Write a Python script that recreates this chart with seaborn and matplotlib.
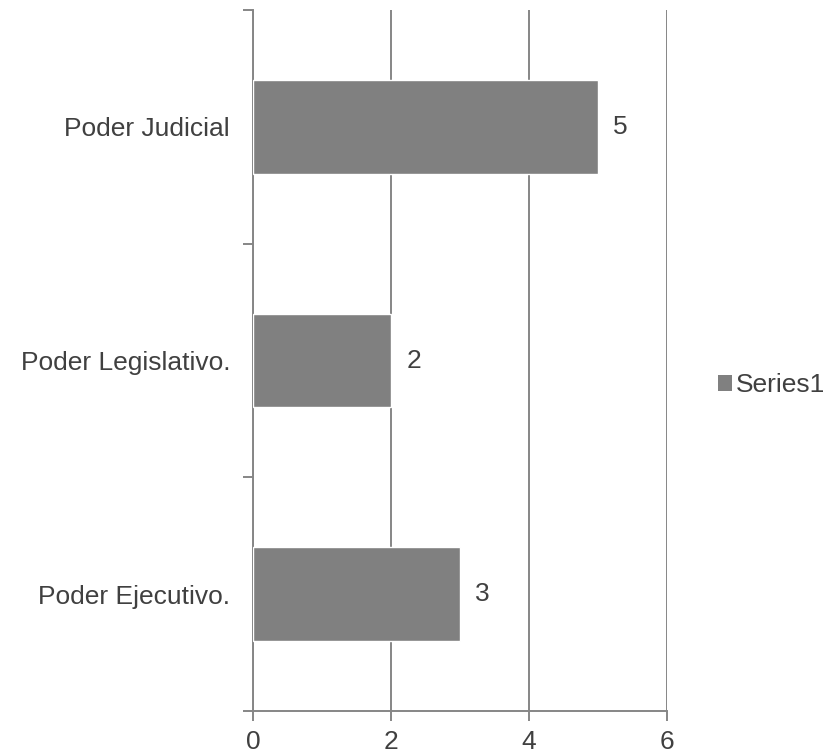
import matplotlib
matplotlib.use('Agg')
import matplotlib.pyplot as plt
import pandas as pd
import seaborn as sns
from matplotlib.patches import Patch

categories = ['Poder Judicial', 'Poder Legislativo.', 'Poder Ejecutivo.']
values = [5, 2, 3]
series_name = 'Series1'
x_ticks = [0, 2, 4, 6]

df = pd.DataFrame({'category': categories, 'value': values})

sns.set_style('white')
plt.rcParams['font.family'] = ['Liberation Sans', 'DejaVu Sans']

text_color = '#404040'
line_color = '#868686'
bar_color = '#808080'

fig = plt.figure(figsize=(8.37, 7.54), dpi=100)
ax = fig.add_axes([0.3023, 0.057, 0.4946, 0.9297])

sns.barplot(
    data=df,
    x='value',
    y='category',
    orient='h',
    color=bar_color,
    width=0.4,
    saturation=1,
    ax=ax,
    zorder=3
)

for c in ax.containers:
    ax.bar_label(c, padding=11, fontsize=19, color=text_color)

ax.set_xlim(0, 6)
ax.set_ylim(2.5, -0.5)
ax.set_xticks(x_ticks)
ax.set_xticklabels([str(t) for t in x_ticks])
ax.grid(axis='x', color=line_color, linewidth=1.4, zorder=0)
ax.grid(axis='y', visible=False)

# category boundaries as minor ticks on the left
ax.set_yticks([-0.5, 0.5, 1.5, 2.5], minor=True)
ax.tick_params(axis='y', which='major', length=0, pad=16.5, labelsize=19, labelcolor=text_color)
ax.tick_params(axis='y', which='minor', length=7, width=1.4, color=line_color, left=True)
ax.tick_params(axis='x', which='major', length=7, width=1.4, color=line_color,
               bottom=True, labelsize=19, labelcolor=text_color, pad=7)

ax.set_xlabel('')
ax.set_ylabel('')
for side in ['top', 'right']:
    ax.spines[side].set_visible(False)
for side in ['left', 'bottom']:
    ax.spines[side].set_color(line_color)
    ax.spines[side].set_linewidth(1.4)

handles = [Patch(facecolor=bar_color, edgecolor='none', label=series_name)]
fig.legend(
    handles=handles,
    loc='center left',
    bbox_to_anchor=(0.842, 0.489),
    frameon=False,
    fontsize=19,
    labelcolor=text_color,
    handlelength=0.53,
    handleheight=0.53,
    handletextpad=0.15,
    borderpad=0
)

fig.savefig('out.png', dpi=100)
